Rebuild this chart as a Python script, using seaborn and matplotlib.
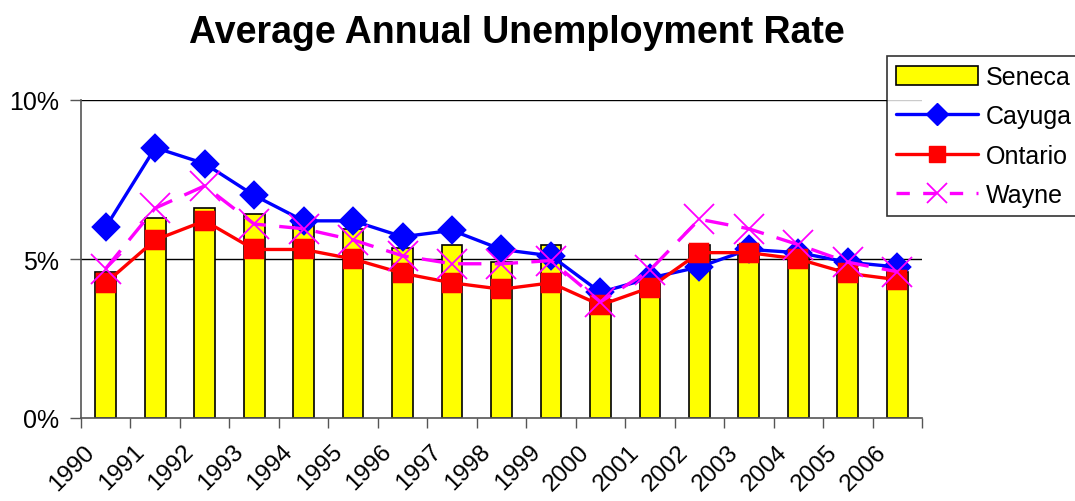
import matplotlib
matplotlib.use("Agg")
import matplotlib.pyplot as plt
import matplotlib.transforms as mtransforms
import seaborn as sns
import pandas as pd
from matplotlib.patches import Patch
from matplotlib.lines import Line2D
from matplotlib.ticker import FuncFormatter

# data (percent)
years = [str(y) for y in range(1990, 2007)]
seneca = [4.6, 6.3, 6.6, 6.4, 6.1, 5.95, 5.35, 5.45, 4.9, 5.45, 3.7, 4.2, 5.45, 5.45, 5.25, 4.7, 4.6]
cayuga = [6.0, 8.5, 8.0, 7.0, 6.2, 6.2, 5.7, 5.9, 5.3, 5.1, 3.95, 4.4, 4.75, 5.3, 5.2, 4.9, 4.75]
ontario = [4.25, 5.6, 6.2, 5.3, 5.3, 5.0, 4.55, 4.25, 4.05, 4.25, 3.55, 4.1, 5.2, 5.2, 5.0, 4.55, 4.35]
wayne = [4.7, 6.6, 7.3, 6.1, 5.95, 5.6, 5.1, 4.85, 4.85, 4.95, 3.65, 4.65, 6.25, 5.95, 5.45, 4.9, 4.6]

df = pd.DataFrame({"year": years, "Seneca": seneca, "Cayuga": cayuga,
                   "Ontario": ontario, "Wayne": wayne})

sns.set_style("white")
plt.rcParams["font.family"] = ["Liberation Sans", "DejaVu Sans"]
plt.rcParams["text.color"] = "black"
plt.rcParams["xtick.color"] = "black"
plt.rcParams["ytick.color"] = "black"

fig = plt.figure(figsize=(10.75, 5.02), dpi=100)
ax = fig.add_axes([81 / 1075, 1 - 419 / 502, 841 / 1075, 318 / 502])

# bars
sns.barplot(data=df, x="year", y="Seneca", color="#FFFF00", saturation=1,
            width=0.42, edgecolor="black", linewidth=1.2, ax=ax, zorder=2)

# lines
sns.pointplot(data=df, x="year", y="Cayuga", color="#0000FF", markers="D",
              errorbar=None, markersize=13, linewidth=2.4, ax=ax, zorder=3)
sns.pointplot(data=df, x="year", y="Ontario", color="#FF0000", markers="s",
              errorbar=None, markersize=13, linewidth=2.4, ax=ax, zorder=4)
sns.pointplot(data=df, x="year", y="Wayne", color="#FF00FF", markers="x",
              linestyles="--", errorbar=None, markersize=22, markeredgewidth=1.3,
              linewidth=2.4, ax=ax, zorder=5)
ax.lines[-1].set_dashes((7, 4))

ax.set_xlim(-0.5, len(years) - 0.5)
ax.set_ylim(0, 10)
ax.set_yticks([0, 5, 10])
ax.yaxis.set_major_formatter(FuncFormatter(lambda v, p: f"{v:.0f}%"))
for v in [5, 10]:
    ax.axhline(v, color="black", lw=1, zorder=1)

ax.set_xlabel("")
ax.set_ylabel("")
ax.set_xticks(range(len(years)))
ax.set_xticklabels(years, rotation=45, ha="right", rotation_mode="anchor")
ax.set_xticks([k - 0.5 for k in range(len(years) + 1)], minor=True)
ax.tick_params(axis="x", which="major", length=0, pad=16, labelsize=17.5, labelcolor="black")
ax.tick_params(axis="x", which="minor", length=7, width=1, color="#555555", direction="out", bottom=True)
ax.tick_params(axis="y", length=8, width=1, color="#555555", direction="out", left=True,
               labelsize=18, labelcolor="black", pad=8)

# nudge the rotated year labels to the left, as in the original
shift = mtransforms.ScaledTranslation(-22 / 100, 0, fig.dpi_scale_trans)
for lab in ax.get_xticklabels():
    lab.set_transform(lab.get_transform() + shift)

for s in ["top", "right"]:
    ax.spines[s].set_visible(False)
for s in ["left", "bottom"]:
    ax.spines[s].set_color("#555555")
    ax.spines[s].set_linewidth(1.2)

fig.text(517 / 1075, 1 - 33 / 502, "Average Annual Unemployment Rate",
         ha="center", va="center", fontsize=27, fontweight="bold", color="black")

handles = [
    Patch(facecolor="#FFFF00", edgecolor="black", linewidth=1.2, label="Seneca"),
    Line2D([], [], color="#0000FF", marker="D", markersize=11, lw=2.4, label="Cayuga"),
    Line2D([], [], color="#FF0000", marker="s", markersize=12, lw=2.4, label="Ontario"),
    Line2D([], [], color="#FF00FF", marker="x", markersize=15, markeredgewidth=1.3,
           lw=2.4, dashes=(4, 4), label="Wayne"),
]
leg = fig.legend(handles=handles, loc="upper left",
                 bbox_to_anchor=(887 / 1075, 1 - 57 / 502), bbox_transform=fig.transFigure,
                 fontsize=18, frameon=True, fancybox=False, edgecolor="black",
                 handlelength=3.3, handleheight=0.8, labelspacing=0.62,
                 borderpad=0.35, handletextpad=0.3, borderaxespad=0)
leg.get_frame().set_linewidth(1.2)

fig.savefig("out.png", dpi=100)
